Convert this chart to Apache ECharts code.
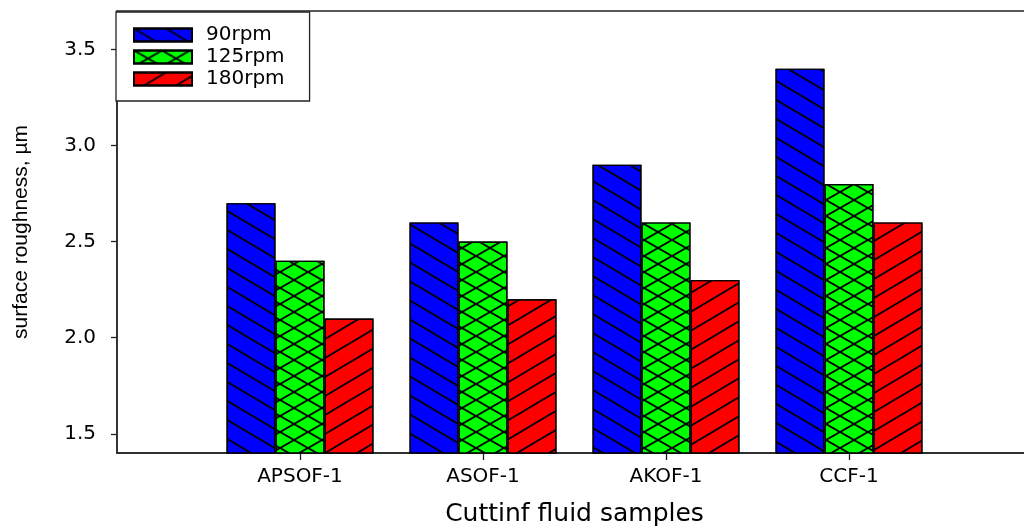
<!DOCTYPE html>
<html><head><meta charset="utf-8">
<script src="https://cdn.jsdelivr.net/npm/echarts@6/dist/echarts.min.js"></script>
<style>html,body{margin:0;padding:0;background:#fff}#c{width:1024px;height:528px}</style>
</head><body><div id="c"></div>
<script>
const categories = ['APSOF-1', 'ASOF-1', 'AKOF-1', 'CCF-1'];
const rpm90 = [2.7, 2.6, 2.9, 3.4];
const rpm125 = [2.4, 2.5, 2.6, 2.8];
const rpm180 = [2.1, 2.2, 2.3, 2.6];
const seriesNames = ['90rpm', '125rpm', '180rpm'];
const yTicks = [1.5, 2.0, 2.5, 3.0, 3.5];
const yTitle = 'surface roughness, µm';
const xTitle = 'Cuttinf fluid samples';

const seriesValues = [rpm90, rpm125, rpm180];
const colors = ['#0000ff', '#00ff00', '#ff0000'];

function f(n) { return Math.round(n * 100) / 100; }
function back(W, H, h) { // "\" line cell
  const d = h * W / H;
  return `M0 0L${f(d)} 0L${W} ${f(H-h)}L${W} ${H}L${f(W-d)} ${H}L0 ${f(h)}Z` +
         `M0 ${f(H-h)}L0 ${H}L${f(d)} ${H}Z` +
         `M${W} 0L${W} ${f(h)}L${f(W-d)} 0Z`;
}
function fwd(W, H, h) { // "/" line cell
  const d = h * W / H;
  return `M0 ${H}L0 ${f(H-h)}L${f(W-d)} 0L${W} 0L${W} ${f(h)}L${f(d)} ${H}Z` +
         `M0 0L${f(d)} 0L0 ${f(h)}Z` +
         `M${W} ${H}L${W} ${f(H-h)}L${f(W-d)} ${H}Z`;
}
function cross(W, H, h) {
  const d = h * W / H;
  return `M0 0L${f(d)} 0L${W} ${f(H-h)}L${W} ${H}L${f(W-d)} ${H}L0 ${f(h)}Z` +
         `M0 ${H}L0 ${f(H-h)}L${f(W-d)} 0L${W} 0L${W} ${f(h)}L${f(d)} ${H}Z`;
}
function decal(path, W, H) {
  return { symbol: 'path://' + path, symbolSize: 1, symbolKeepAspect: false,
           dashArrayX: [W, 0], dashArrayY: [H, 0], color: '#000', rotation: 0 };
}
const decals = [
  decal(back(32, 19, 1.1), 32, 19),
  decal(cross(28, 16, 1.1), 28, 16),
  decal(fwd(32, 19, 1.1), 32, 19)
];

const chart = echarts.init(document.getElementById('c'), null, { renderer: 'canvas' });
const tickFont = 'DejaVu Sans';
chart.setOption({
  animation: false,
  backgroundColor: '#fff',
  grid: { left: 117, right: -8, top: 11, bottom: 75, containLabel: false, outerBoundsMode: 'none',
          show: true, borderColor: '#222', borderWidth: 1.3, backgroundColor: 'transparent' },
  legend: {
    orient: 'vertical', left: 116, top: 12, icon: 'rect',
    itemWidth: 58, itemHeight: 13, itemGap: 2,
    padding: [13, 25, 12, 17],
    backgroundColor: '#fff', borderColor: '#222', borderWidth: 1.3,
    textStyle: { fontFamily: tickFont, fontSize: 20, color: '#000', padding: [0, 0, 0, 9] },
    data: seriesNames
  },
  xAxis: {
    type: 'category', boundaryGap: false,
    data: [''].concat(categories, ['']),
    name: xTitle, nameLocation: 'middle', nameGap: 49,
    nameTextStyle: { fontFamily: tickFont, fontSize: 25, color: '#000' },
    axisLine: { lineStyle: { color: '#222', width: 1.5 } },
    axisTick: { length: 7, interval: (i) => i >= 1 && i <= categories.length, lineStyle: { color: '#222', width: 1.3 } },
    axisLabel: { interval: 0, margin: 14, fontFamily: tickFont, fontSize: 20, color: '#000' },
    splitLine: { show: false }
  },
  yAxis: {
    type: 'value', min: 1.4, max: 3.7,
    name: yTitle, nameLocation: 'middle', nameRotate: 90, nameGap: 85,
    nameTextStyle: { fontFamily: 'Liberation Sans', fontSize: 21, color: '#000' },
    axisLine: { show: true, lineStyle: { color: '#222', width: 1.5 } },
    axisTick: { show: true, length: 6, customValues: yTicks, lineStyle: { color: '#222', width: 1.3 } },
    axisLabel: { customValues: yTicks, margin: 21, fontFamily: tickFont, fontSize: 20, color: '#000', formatter: (v) => Number(v).toFixed(1) },
    splitLine: { show: false }
  },
  series: seriesNames.map((n, i) => ({
    name: n, type: 'bar', barWidth: 49, barGap: '0%',
    data: ['-'].concat(seriesValues[i], ['-']),
    itemStyle: { color: colors[i], borderColor: '#000', borderWidth: 1.2, decal: decals[i] },
    emphasis: { disabled: true }
  }))
});
</script></body></html>
